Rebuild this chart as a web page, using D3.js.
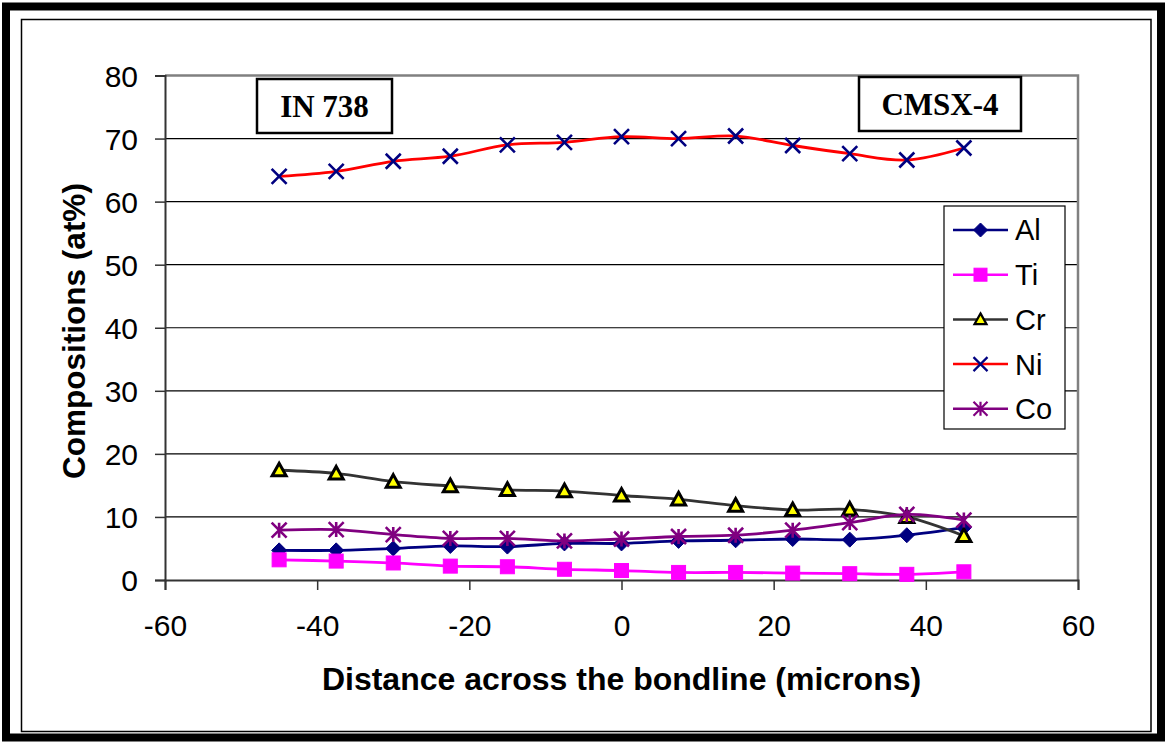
<!DOCTYPE html>
<html>
<head>
<meta charset="utf-8">
<script src="https://cdn.jsdelivr.net/npm/d3@7/dist/d3.min.js"></script>
<style>
  body { margin: 0; background: #fff; }
  text { font-family: "Liberation Sans", Arial, sans-serif; }
</style>
</head>
<body>
<svg id="chart" width="1167" height="744"></svg>
<script>
// distance across the bondline (microns)
var distance = [-45, -37.5, -30, -22.5, -15, -7.5, 0, 7.5, 15, 22.5, 30, 37.5, 45];
// compositions, at%
var al = [4.7, 4.7, 5.0, 5.4, 5.3, 5.8, 5.8, 6.2, 6.3, 6.5, 6.4, 7.1, 8.3];
var ti = [3.2, 3.0, 2.7, 2.2, 2.1, 1.7, 1.5, 1.2, 1.2, 1.1, 1.0, 0.9, 1.3];
var cr = [17.4, 16.9, 15.6, 14.9, 14.3, 14.1, 13.4, 12.8, 11.8, 11.1, 11.2, 10.0, 7.0];
var ni = [64.0, 64.8, 66.4, 67.2, 69.0, 69.4, 70.3, 70.0, 70.4, 68.9, 67.6, 66.6, 68.5];
var co = [7.9, 8.0, 7.2, 6.6, 6.6, 6.2, 6.5, 6.9, 7.1, 7.9, 9.1, 10.4, 9.5];
var seriesNames = ["Al", "Ti", "Cr", "Ni", "Co"];
var xTicks = [-60, -40, -20, 0, 20, 40, 60];
var yTicks = [0, 10, 20, 30, 40, 50, 60, 70, 80];

var series = [
  {name: "Al", values: al, line: "#000080", marker: "diamond", fill: "#000080", stroke: "#000080"},
  {name: "Ti", values: ti, line: "#ff00ff", marker: "square", fill: "#ff00ff", stroke: "#ff00ff"},
  {name: "Cr", values: cr, line: "#333333", marker: "triangle", fill: "#ffff00", stroke: "#000000"},
  {name: "Ni", values: ni, line: "#ff0000", marker: "cross", fill: "none", stroke: "#000080"},
  {name: "Co", values: co, line: "#800080", marker: "star", fill: "none", stroke: "#800080"}
];

var svg = d3.select("#chart");
svg.append("rect").attr("width", 1167).attr("height", 744).attr("fill", "#fff");

// frames
svg.append("rect").attr("x", 6).attr("y", 6.5).attr("width", 1155).attr("height", 731)
  .attr("fill", "none").attr("stroke", "#000").attr("stroke-width", 8);
svg.append("rect").attr("x", 21.5).attr("y", 19.5).attr("width", 1129.5).attr("height", 712)
  .attr("fill", "none").attr("stroke", "#000").attr("stroke-width", 1.5);

var plotL = 165, plotR = 1078, plotT = 75.5, plotB = 580;
var x = d3.scaleLinear().domain([-60, 60]).range([plotL, plotR]);
var y = d3.scaleLinear().domain([0, 80]).range([plotB, plotT]);

// gridlines
svg.append("g").selectAll("line").data(yTicks.filter(function(d) { return d > 0 && d < 80; }))
  .enter().append("line")
  .attr("x1", plotL).attr("x2", plotR)
  .attr("y1", function(d) { return y(d); }).attr("y2", function(d) { return y(d); })
  .attr("stroke", "#000").attr("stroke-width", 1.2);

// plot border top/right
svg.append("path")
  .attr("d", "M" + plotL + "," + plotT + "H" + plotR + "V" + plotB)
  .attr("fill", "none").attr("stroke", "#808080").attr("stroke-width", 2.5);

// axes
var fmt = function(d) { return String(d); };
var yAxis = svg.append("g")
  .attr("transform", "translate(" + plotL + ",0)")
  .call(d3.axisLeft(y).tickValues(yTicks).tickFormat(fmt).tickSize(10).tickPadding(17));
var xAxis = svg.append("g")
  .attr("transform", "translate(0," + plotB + ")")
  .call(d3.axisBottom(x).tickValues(xTicks).tickFormat(fmt).tickSize(10).tickPadding(25));
[xAxis, yAxis].forEach(function(a) {
  a.select(".domain").attr("stroke", "#333").attr("stroke-width", 2);
  a.selectAll(".tick line").attr("stroke", "#333").attr("stroke-width", 1.5);
  a.selectAll(".tick text").attr("fill", "#000").style("font-size", "30px")
    .style("font-family", '"Liberation Sans", Arial, sans-serif');
});
yAxis.selectAll(".tick text").attr("dy", "0.36em");

// titles
svg.append("text").attr("x", (plotL + plotR) / 2 + 0).attr("y", 690)
  .attr("text-anchor", "middle").style("font-size", "32px").style("font-weight", "bold")
  .text("Distance across the bondline (microns)");
svg.append("text").attr("transform", "translate(85,331) rotate(-90)")
  .attr("text-anchor", "middle").style("font-size", "31.5px").style("font-weight", "bold")
  .text("Compositions (at%)");

// marker drawing
function marker(g, type, s, fill, stroke, sw) {
  var h = s / 2;
  if (type === "diamond") {
    g.append("path").attr("d", "M0," + (-h) + "L" + h + ",0L0," + h + "L" + (-h) + ",0Z")
      .attr("fill", fill).attr("stroke", stroke).attr("stroke-width", 1);
  } else if (type === "square") {
    g.append("rect").attr("x", -h + 0.5).attr("y", -h + 0.5).attr("width", s - 1).attr("height", s - 1)
      .attr("fill", fill).attr("stroke", stroke).attr("stroke-width", 1);
  } else if (type === "triangle") {
    g.append("path").attr("d", "M0," + (-h) + "L" + h + "," + (h * 0.8) + "L" + (-h) + "," + (h * 0.8) + "Z")
      .attr("fill", fill).attr("stroke", stroke).attr("stroke-width", sw).attr("stroke-linejoin", "miter");
  } else if (type === "cross") {
    g.append("path").attr("d", "M" + (-h) + "," + (-h) + "L" + h + "," + h + "M" + h + "," + (-h) + "L" + (-h) + "," + h)
      .attr("stroke", stroke).attr("stroke-width", sw).attr("fill", "none");
  } else if (type === "star") {
    g.append("path").attr("d", "M" + (-h) + "," + (-h) + "L" + h + "," + h + "M" + h + "," + (-h) + "L" + (-h) + "," + h +
      "M0," + (-h) + "L0," + h)
      .attr("stroke", stroke).attr("stroke-width", sw).attr("fill", "none");
  }
}

var line = d3.line()
  .x(function(d, i) { return x(distance[i]); })
  .y(function(d) { return y(d); })
  .curve(d3.curveCardinal.tension(0));

series.forEach(function(s) {
  var g = svg.append("g");
  g.append("path").datum(s.values).attr("d", line)
    .attr("fill", "none").attr("stroke", s.line).attr("stroke-width", 2.8);
  s.values.forEach(function(v, i) {
    var m = g.append("g").attr("transform", "translate(" + x(distance[i]) + "," + y(v) + ")");
    marker(m, s.marker, s.marker === "triangle" ? 14 : 15, s.fill, s.stroke, s.marker === "triangle" ? 3 : 2.6);
  });
});

// label boxes
function labelBox(x0, y0, w, h, txt) {
  svg.append("rect").attr("x", x0).attr("y", y0).attr("width", w).attr("height", h)
    .attr("fill", "#fff").attr("stroke", "#000").attr("stroke-width", 2.5);
  svg.append("text").attr("x", x0 + w / 2).attr("y", y0 + h / 2 + 11)
    .attr("text-anchor", "middle")
    .style("font-family", '"Liberation Serif", "Times New Roman", serif')
    .style("font-size", "31px").style("font-weight", "bold").text(txt);
}
labelBox(257, 79, 135, 54, "IN 738");
labelBox(859, 77, 162, 54, "CMSX-4");

// legend
var lg = svg.append("g").attr("transform", "translate(944,206)");
lg.append("rect").attr("width", 121).attr("height", 223)
  .attr("fill", "#fff").attr("stroke", "#000").attr("stroke-width", 1.2);
series.forEach(function(s, i) {
  var yy = 24 + i * 44.7;
  lg.append("line").attr("x1", 9).attr("x2", 64).attr("y1", yy).attr("y2", yy)
    .attr("stroke", s.line).attr("stroke-width", 2.5);
  var m = lg.append("g").attr("transform", "translate(36.5," + yy + ")");
  marker(m, s.marker, s.marker === "triangle" ? 12 : 14, s.fill, s.stroke, 2.2);
  lg.append("text").attr("x", 71).attr("y", yy).attr("dy", "0.36em")
    .style("font-size", "29px").text(seriesNames[i]);
});
</script>
</body>
</html>
